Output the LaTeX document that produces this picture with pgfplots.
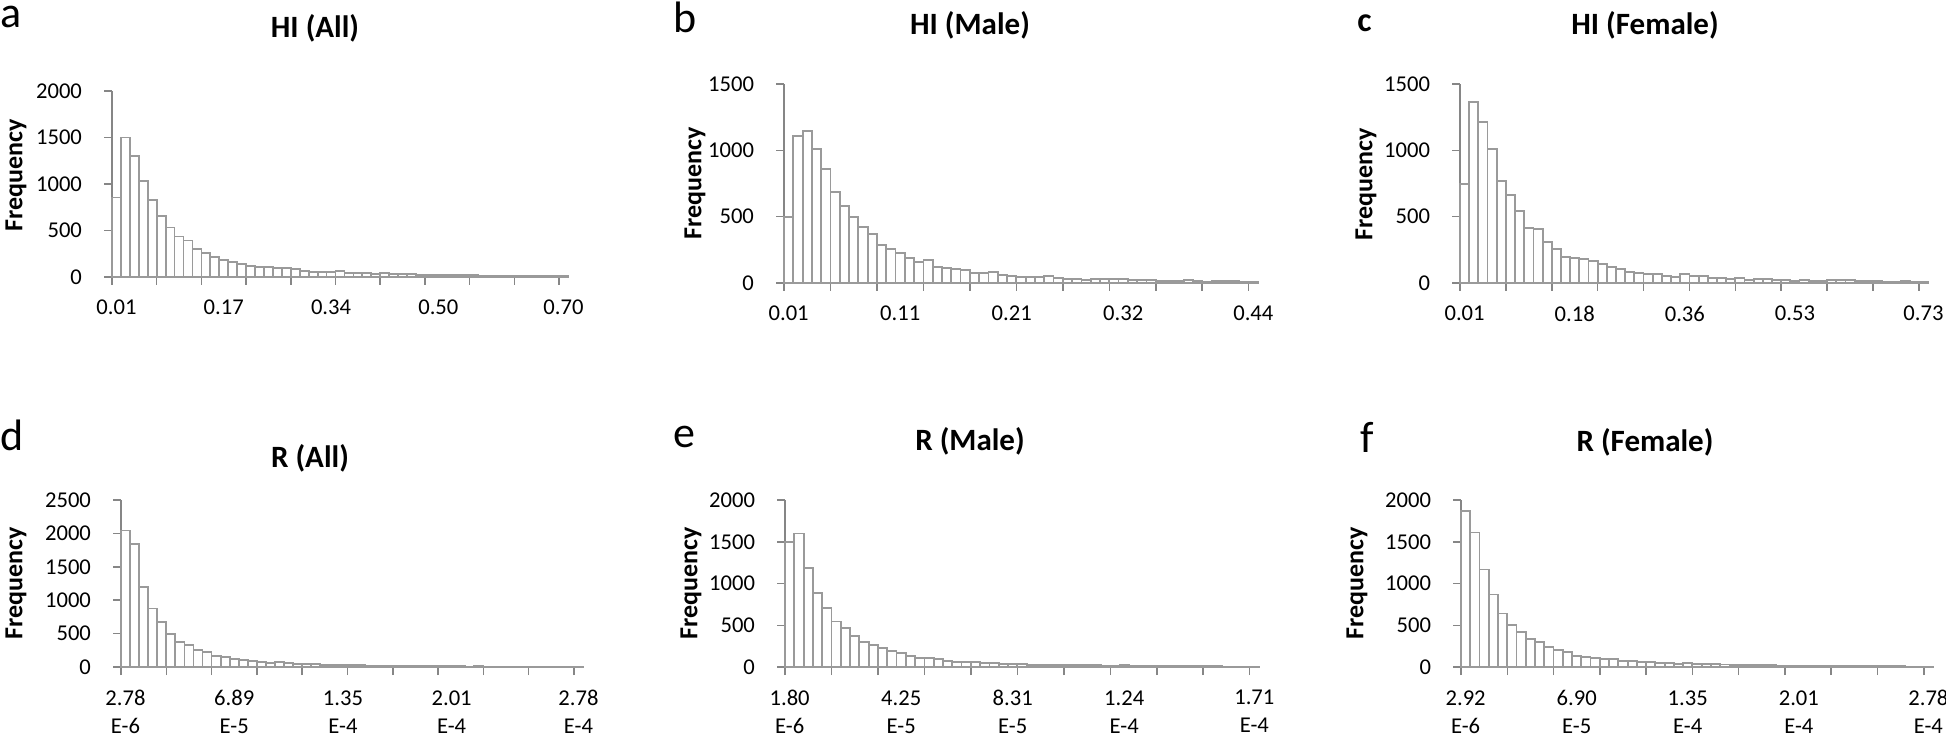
\documentclass[border=0pt]{standalone}
\usepackage{fontspec}
\setmainfont{Carlito}
\usepackage{pgfplots}
\usepackage{pgfplotstable}
\pgfplotsset{compat=1.18}
\definecolor{bargray}{RGB}{154,154,154}
\definecolor{axgray}{RGB}{134,134,134}

% bin index, frequency
\pgfplotstableread{
bin a b c d e f
0 854 500 746 2042 1500 1868
1 1500 1108 1362 1843 1600 1612
2 1304 1146 1211 1195 1188 1168
3 1036 1008 1008 876 884 868
4 825 857 771 677 704 640
5 654 688 661 493 544 500
6 532 578 545 378 468 420
7 436 497 412 324 376 340
8 393 422 405 259 296 300
9 304 369 312 219 260 240
10 261 289 254 169 224 208
11 218 256 198 149 192 176
12 179 229 191 120 168 136
13 164 191 183 100 132 120
14 143 158 166 85 108 112
15 114 173 143 70 104 96
16 104 123 123 60 92 96
17 111 116 103 75 68 72
18 93 108 85 55 60 68
19 96 98 73 50 60 64
20 86 78 68 50 56 60
21 61 75 65 45 52 52
22 57 80 55 35 44 48
23 57 60 45 30 36 40
24 50 50 68 35 36 48
25 61 45 50 30 32 36
26 39 48 50 25 28 40
27 46 45 40 20 24 36
28 43 53 38 20 24 30
29 32 40 33 18 28 28
30 39 28 38 18 28 24
31 32 28 25 15 24 24
32 36 25 30 15 20 20
33 32 30 33 15 20 20
34 25 30 23 12 16 18
35 25 33 23 12 16 16
36 25 30 18 10 20 16
37 22 25 23 10 16 14
38 20 20 18 8 14 12
39 18 22 15 10 12 12
40 18 18 22 8 12 14
41 15 15 20 6 16 10
42 15 15 25 8 10 10
43 14 20 15 6 8 12
44 12 15 15 5 10 10
45 12 12 15 5 8 8
46 10 18 12 4 8 8
47 15 15 12 4 6 8
48 10 15 15 3 6 6
49 8 12 10 3 5 6
50 8 8 8 3 5 5
}\histdata

\pgfplotsset{
  hist/.style={
    scale only axis,
    axis x line*=bottom,
    axis y line*=left,
    axis line style={draw=axgray, line width=0.75pt, -},
    xmin=-0.5, xmax=50.5, ymin=0,
    tick align=outside,
    major tick length=4pt,
    every tick/.style={draw=axgray, line width=0.75pt},
    xtick={-0.5,4.5,...,49.5},
    xticklabels={},
    extra x ticks={0,12,24,36,50},
    extra x tick style={major tick length=0pt,
       xticklabel style={align=center, anchor=north, yshift=-8pt}},
    enlargelimits=false,
    clip=false,
    /pgf/number format/assume math mode=true,
    ticklabel style={font=\fontsize{11.3}{14}\selectfont, text=black},
    yticklabel style={/pgf/number format/fixed, /pgf/number format/1000 sep={}, xshift=-7.5pt},
  },
  twoline/.style={extra x tick style={
       xticklabel style={inner sep=1pt, yshift=-2.5pt}}},
  histbar/.style={ybar, bar width=1, draw=bargray, fill=white, line width=0.9pt},
}

\newcommand{\ttl}{\bfseries\fontsize{15.5}{18}\selectfont}
\newcommand{\frq}{\bfseries\fontsize{13}{16}\selectfont}

\begin{document}
\begin{tikzpicture}
\useasboundingbox (0pt,0pt) rectangle (973pt,367pt);

% a
\begin{axis}[hist, at={(56pt,228.5pt)}, anchor=south west, width=228pt, height=93pt,
  ymax=2000, ytick={0,500,...,2000},
  extra x tick labels={0.01,0.17,0.34,0.50,0.70}]
\addplot[histbar] table[x=bin,y=a] {\histdata};
\end{axis}
% b
\begin{axis}[hist, at={(392pt,225.5pt)}, anchor=south west, width=237pt, height=99.5pt,
  ymax=1500, ytick={0,500,...,1500},
  extra x tick labels={0.01,0.11,0.21,0.32,0.44}]
\addplot[histbar] table[x=bin,y=b] {\histdata};
\end{axis}
% c
\begin{axis}[hist, at={(730pt,225.5pt)}, anchor=south west, width=234pt, height=99.5pt,
  ymax=1500, ytick={0,500,...,1500},
  extra x tick labels={0.01,0.18,0.36,0.53,0.73}]
\addplot[histbar] table[x=bin,y=c] {\histdata};
\end{axis}
% d
\begin{axis}[hist, twoline, at={(60.5pt,33.5pt)}, anchor=south west, width=231pt, height=83.5pt,
  ymax=2500, ytick={0,500,...,2500},
  extra x tick labels={{2.78\\E-6},{6.89\\E-5},{1.35\\E-4},{2.01\\E-4},{2.78\\E-4}}]
\addplot[histbar] table[x=bin,y=d] {\histdata};
\end{axis}
% e
\begin{axis}[hist, twoline, at={(392.5pt,33.5pt)}, anchor=south west, width=237pt, height=83.5pt,
  ymax=2000, ytick={0,500,...,2000},
  extra x tick labels={{1.80\\E-6},{4.25\\E-5},{8.31\\E-5},{1.24\\E-4},{1.71\\E-4}}]
\addplot[histbar] table[x=bin,y=e] {\histdata};
\end{axis}
% f
\begin{axis}[hist, twoline, at={(730.5pt,33.5pt)}, anchor=south west, width=236pt, height=83.5pt,
  ymax=2000, ytick={0,500,...,2000},
  extra x tick labels={{2.92\\E-6},{6.90\\E-5},{1.35\\E-4},{2.01\\E-4},{2.78\\E-4}}]
\addplot[histbar] table[x=bin,y=f] {\histdata};
\end{axis}

\begin{scope}[x=0.5pt,y=0.5pt]
% titles
\node[anchor=base] at (315,696) {\ttl HI (All)};
\node[anchor=base] at (970,699) {\ttl HI (Male)};
\node[anchor=base] at (1645,699) {\ttl HI (Female)};
\node[anchor=base] at (310,267) {\ttl R (All)};
\node[anchor=base] at (970,284) {\ttl R (Male)};
\node[anchor=base] at (1645,283) {\ttl R (Female)};

% y labels
\node[rotate=90] at (16,559) {\frq Frequency};
\node[rotate=90] at (695,551) {\frq Frequency};
\node[rotate=90] at (1366,550) {\frq Frequency};
\node[rotate=90] at (16,151) {\frq Frequency};
\node[rotate=90] at (691,151) {\frq Frequency};
\node[rotate=90] at (1357,151) {\frq Frequency};

% panel letters
\node[anchor=base west, inner sep=0pt, font=\fontsize{22}{26}\selectfont] at (0,706) {a};
\node[anchor=base west, inner sep=0pt, font=\fontsize{22}{26}\selectfont] at (673,701) {b};
\node[anchor=base west, inner sep=0pt, font=\bfseries\fontsize{17}{20}\selectfont] at (1357,702) {c};
\node[anchor=base west, inner sep=0pt, font=\fontsize{22}{26}\selectfont] at (0,284) {d};
\node[anchor=base west, inner sep=0pt, font=\fontsize{22}{26}\selectfont] at (673,286) {e};
\node[anchor=base west, inner sep=0pt, font=\fontsize{22}{26}\selectfont] at (1360,282) {f};
\end{scope}
\end{tikzpicture}
\end{document}
